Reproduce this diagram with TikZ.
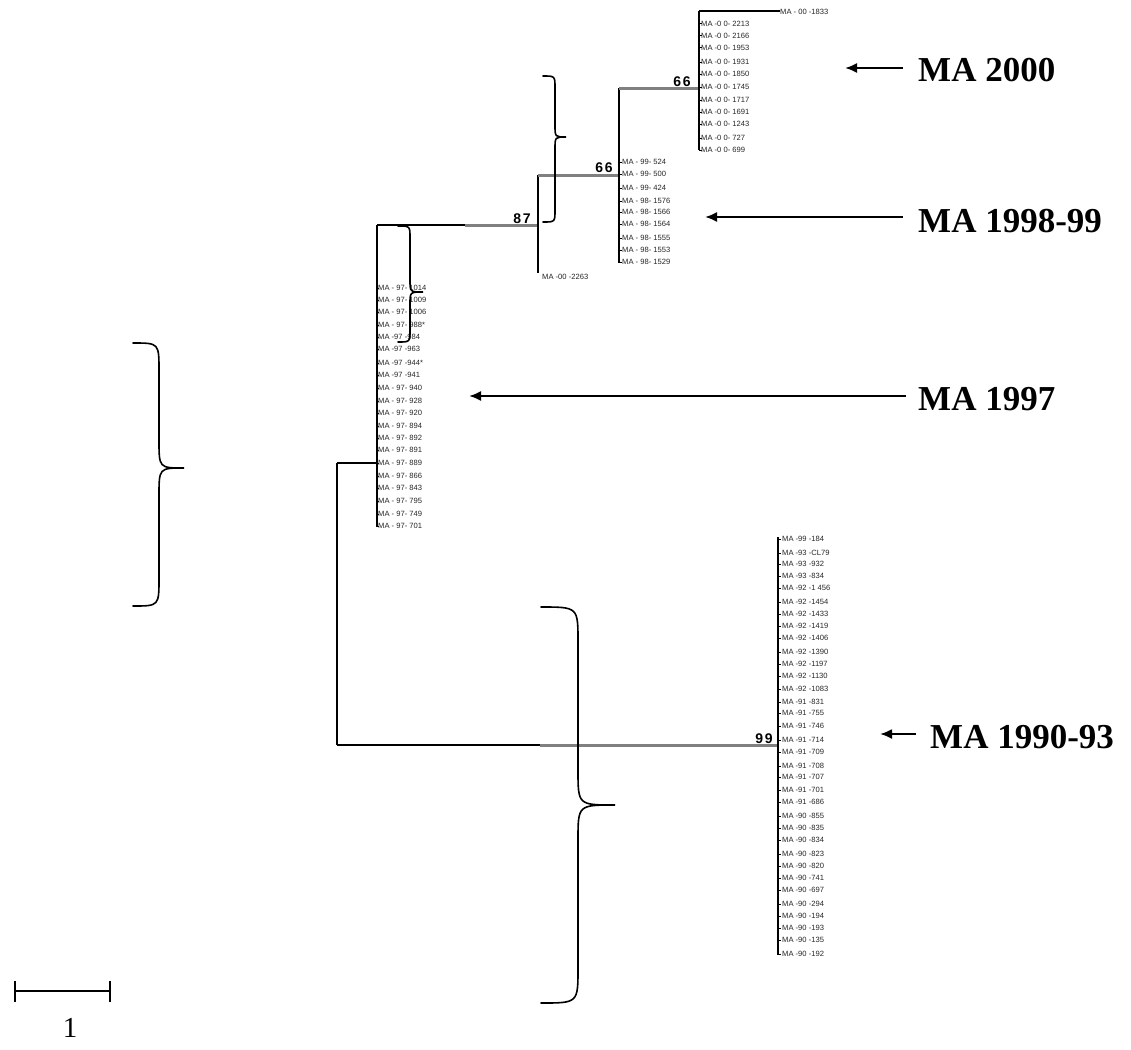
\documentclass[tikz,border=0pt]{standalone}
\usepackage{fontspec}
\setmainfont{Liberation Serif}
\newfontfamily\arialf{Liberation Sans}
\newfontfamily\bootf[LetterSpace=12]{Liberation Sans}
\usetikzlibrary{arrows.meta}
\newcommand\drawbrace[7]{\draw[brace] (#1,#4) .. controls (#2,#4) .. (#2,{#4+#7}) -- (#2,{#5-#7}) .. controls (#2,#5) .. (#3,#5) .. controls (#2,#5) .. (#2,{#5+#7}) -- (#2,{#6-#7}) .. controls (#2,#6) .. (#1,#6);}
\begin{document}
\begin{tikzpicture}[x=1pt,y=-1pt,
 blk/.style={line width=2pt, black},
 gry/.style={line width=3pt, color=black!50},
 tk/.style={line width=1pt, black},
 leaf/.style={anchor=west, inner sep=0pt, font=\arialf\fontsize{7.6}{8}\selectfont, text=black!85},
 boot/.style={inner sep=0pt, font=\bootf\bfseries\fontsize{14}{15}\selectfont},
 big/.style={anchor=west, inner sep=0pt, font=\bfseries\fontsize{35}{37}\selectfont},
 arr/.style={line width=2pt, -{Latex[length=12pt,width=10pt]}},
 brace/.style={line width=1.6pt, line cap=round},
]
\fill[white] (0,0) rectangle (1131,1049);
\useasboundingbox (0,0) rectangle (1131,1049);

% tree coordinates
\coordinate (r97) at (337,463);
\coordinate (r90) at (337,745);
\coordinate (c97mid) at (377,463);
\coordinate (c97top) at (377,225);
\coordinate (c97bot) at (377,527);
\coordinate (n87a) at (465,225);
\coordinate (n87) at (538,225);
\coordinate (n87top) at (538,175);
\coordinate (n87bot) at (538,273);
\coordinate (n66a) at (619,175);
\coordinate (n66top) at (619,88);
\coordinate (n66bot) at (619,263);
\coordinate (n66b) at (699,88);
\coordinate (n66btop) at (699,11);
\coordinate (n66bbot) at (699,150);
\coordinate (t1833) at (780,11);
\coordinate (n99a) at (540,745);
\coordinate (n99) at (778,745);
\coordinate (n99top) at (778,537);
\coordinate (n99bot) at (778,955);

% branches
\draw[blk] (r97) -- (r90);
\draw[blk] (r97) -- (c97mid);
\draw[blk] (r90) -- (n99a);
\draw[gry] (n99a) -- (n99);
\draw[blk] (n99top) -- (n99bot);
\draw[blk] (c97top) -- (c97bot);
\draw[blk] (c97top) -- (n87a);
\draw[gry] (n87a) -- (n87);
\draw[blk] (n87top) -- (n87bot);
\draw[gry] (n87top) -- (n66a);
\draw[blk] (n66top) -- (n66bot);
\draw[gry] (n66top) -- (n66b);
\draw[blk] (n66btop) -- (n66bbot);
\draw[blk] (n66btop) -- (t1833);

% bootstrap values
\node[boot] (b87) at (522,219) {87};
\node[boot] (b66a) at (604,168) {66};
\node[boot] (b66b) at (682,82) {66};
\node[boot] (b99) at (764,739) {99};

% leaves MA 2000
\node[leaf] (l1833) at (780,12) {MA - 00 -1833};
\foreach \y/\t [count=\i] in {24/MA -0 0- 2213, 36/MA -0 0- 2166, 48/MA -0 0- 1953, 62/MA -0 0- 1931, 74/MA -0 0- 1850, 87/MA -0 0- 1745, 100/MA -0 0- 1717, 112/MA -0 0- 1691, 124/MA -0 0- 1243, 138/MA -0 0- 727, 150/MA -0 0- 699}{
  \draw[tk] (699,\y) -- (702,\y);
  \node[leaf] (a\i) at (701,\y) {\t};
}
% leaves MA 1998-99
\foreach \y/\t [count=\i] in {162/MA - 99- 524, 174/MA - 99- 500, 188/MA - 99- 424, 201/MA - 98- 1576, 212/MA - 98- 1566, 224/MA - 98- 1564, 238/MA - 98- 1555, 250/MA - 98- 1553, 262/MA - 98- 1529}{
  \draw[tk] (619,\y) -- (622,\y);
  \node[leaf] (b\i) at (622,\y) {\t};
}
\node[leaf] (l2263) at (542,277) {MA -00 -2263};

% leaves MA 1997
\foreach \y/\t [count=\i] in {288/MA - 97- 1014, 300/MA - 97- 1009, 312/MA - 97- 1006, 325/MA - 97- 988*, 337/MA -97 -984, 349/MA -97 -963, 363/MA -97 -944*, 375/MA -97 -941, 388/MA - 97- 940, 401/MA - 97- 928, 413/MA - 97- 920, 426/MA - 97- 894, 438/MA - 97- 892, 450/MA - 97- 891, 463/MA - 97- 889, 476/MA - 97- 866, 488/MA - 97- 843, 501/MA - 97- 795, 514/MA - 97- 749, 526/MA - 97- 701}{
  \draw[tk] (377,\y) -- (379,\y);
  \node[leaf] (c\i) at (378,\y) {\t};
}

% leaves MA 1990-93
\foreach \y/\t [count=\i] in {539/MA -99 -184, 553/MA -93 -CL79, 564/MA -93 -932, 576/MA -93 -834, 588/MA -92 -1 456, 602/MA -92 -1454, 614/MA -92 -1433, 626/MA -92 -1419, 638/MA -92 -1406, 652/MA -92 -1390, 664/MA -92 -1197, 676/MA -92 -1130, 689/MA -92 -1083, 702/MA -91 -831, 713/MA -91 -755, 726/MA -91 -746, 740/MA -91 -714, 752/MA -91 -709, 766/MA -91 -708, 777/MA -91 -707, 790/MA -91 -701, 802/MA -91 -686, 816/MA -90 -855, 828/MA -90 -835, 840/MA -90 -834, 854/MA -90 -823, 866/MA -90 -820, 878/MA -90 -741, 890/MA -90 -697, 904/MA -90 -294, 916/MA -90 -194, 928/MA -90 -193, 940/MA -90 -135, 954/MA -90 -192}{
  \draw[tk] (778,\y) -- (781,\y);
  \node[leaf] (d\i) at (782,\y) {\t};
}

% braces
\drawbrace{398}{410}{423}{226}{292}{342}{12}
\drawbrace{543}{555}{566}{76}{137}{222}{12}
\drawbrace{133}{159}{184}{343}{468}{606}{28}
\drawbrace{541}{578}{615}{607}{805}{1003}{35}

% group labels and arrows
\node[big] (g2000) at (918,70) {MA 2000};
\node[big] (g9899) at (918,221) {MA 1998-99};
\node[big] (g1997) at (918,399) {MA 1997};
\node[big] (g9093) at (930,737) {MA 1990-93};
\coordinate (e2000) at (845,68);
\coordinate (e9899) at (705,217);
\coordinate (e1997) at (469,396);
\coordinate (e9093) at (880,734);
\draw[arr] ([xshift=-15pt]g2000.west |- e2000) -- (e2000);
\draw[arr] ([xshift=-15pt]g9899.west |- e9899) -- (e9899);
\draw[arr] ([xshift=-12pt]g1997.west |- e1997) -- (e1997);
\draw[arr] ([xshift=-14pt]g9093.west |- e9093) -- (e9093);

% scale bar
\coordinate (s0) at (15,991);
\coordinate (s1) at (110,991);
\draw[blk] (s0) -- (s1);
\draw[blk] (15,981) -- (15,1002);
\draw[blk] (110,981) -- (110,1002);
\node[inner sep=0pt, font=\fontsize{29}{30}\selectfont] (sl) at (70,1028) {1};
\end{tikzpicture}
\end{document}
